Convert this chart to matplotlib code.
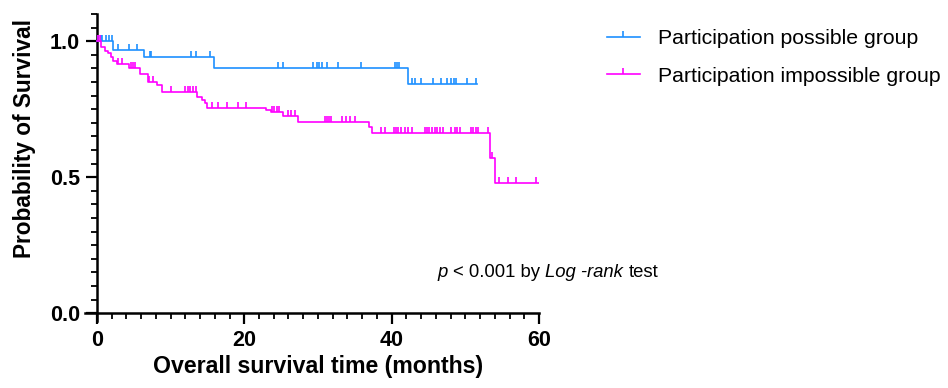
import numpy as np
import matplotlib
matplotlib.use("Agg")
import matplotlib.pyplot as plt
from matplotlib.path import Path
from matplotlib.lines import Line2D
from matplotlib.offsetbox import TextArea, HPacker, AnchoredOffsetbox

plt.rcParams["font.family"] = ["Liberation Sans", "DejaVu Sans"]

# Participation possible group (step times / survival after step)
possible_times = [0.0, 2.2, 6.4, 15.9, 42.2]
possible_surv = [1.0, 0.969, 0.940, 0.903, 0.842]
possible_end = 51.6
possible_censor = [0.2, 0.5, 0.7, 1.3, 1.7, 2.1, 2.9, 4.3, 5.4, 7.2, 7.4, 12.8,
                   13.5, 15.4, 24.6, 25.3, 29.3, 29.8, 30.2, 30.6, 31.2, 32.7,
                   35.9, 40.4, 40.7, 41.0, 42.7, 43.1, 44.0, 45.6, 46.7, 47.5,
                   48.1, 48.4, 48.7, 50.2, 51.5]

# Participation impossible group
impossible_times = [0.0, 0.6, 1.1, 1.5, 1.9, 2.2, 2.7, 4.4, 5.8, 7.0, 8.1, 8.9,
                    13.6, 14.2, 14.7, 15.0, 22.9, 23.6, 25.3, 27.3, 36.9, 37.3,
                    53.4, 54.0]
impossible_surv = [1.0, 0.979, 0.964, 0.955, 0.940, 0.928, 0.915, 0.900, 0.881,
                   0.850, 0.838, 0.814, 0.795, 0.783, 0.771, 0.755, 0.746, 0.738,
                   0.726, 0.701, 0.685, 0.664, 0.569, 0.477]
impossible_end = 60.0
impossible_censor = [0.2, 0.4, 2.9, 3.4, 4.6, 4.9, 5.2, 7.1, 7.6, 10.0, 12.0,
                     12.3, 12.6, 13.1, 13.4, 15.6, 16.5, 17.7, 19.1, 20.2, 23.8,
                     24.1, 24.4, 24.7, 26.0, 26.4, 26.9, 30.9, 31.2, 31.5, 31.8,
                     33.2, 33.8, 34.3, 35.0, 38.6, 39.1, 40.3, 40.6, 40.9, 41.2,
                     41.8, 42.2, 42.7, 44.5, 44.8, 45.1, 45.4, 45.9, 46.2, 46.5,
                     46.9, 48.0, 48.6, 48.9, 49.3, 50.7, 51.0, 51.4, 51.7, 53.0,
                     53.6, 54.5, 55.8, 56.9, 59.6]

BLUE = "#1e90ff"
PINK = "#ff00ff"

# upward tick used for censored observations
TICK = Path([(0, 0), (0, 1)], [Path.MOVETO, Path.LINETO])


def draw_curve(ax, times, surv, end, censor, color):
    t = np.append(times, end)
    s = np.append(surv, surv[-1])
    ax.step(t, s, where="post", color=color, lw=1.2, zorder=3)
    idx = np.searchsorted(times, censor, side="right") - 1
    cs = np.asarray(surv)[idx]
    ax.plot(censor, cs, ls="none", marker=TICK, ms=8.5, mew=1.2,
            color=color, zorder=3)


fig = plt.figure(figsize=(9.48, 3.88), dpi=100)
ax = fig.add_axes([0.0897, 0.172, 0.479, 0.792])

draw_curve(ax, possible_times, possible_surv, possible_end, possible_censor, BLUE)
draw_curve(ax, impossible_times, impossible_surv, impossible_end,
           impossible_censor, PINK)

ax.set_xlim(-1.6, 60)
ax.set_ylim(-0.03, 1.1)
ax.spines["left"].set_position(("data", 0))
ax.spines["bottom"].set_position(("data", 0))
ax.spines["top"].set_visible(False)
ax.spines["right"].set_visible(False)
for sp in ("left", "bottom"):
    ax.spines[sp].set_linewidth(1.8)

ax.set_xticks([0, 20, 40, 60])
ax.set_xticks(np.arange(0, 61, 2), minor=True)
ax.set_yticks([0.0, 0.5, 1.0])
ax.set_yticks(np.arange(0, 1.101, 0.05), minor=True)
ax.set_yticklabels(["0.0", "0.5", "1.0"])
ax.tick_params(which="major", length=8, width=1.6, pad=4, labelsize=15.5)
ax.tick_params(which="minor", length=4, width=1.3)
for lab in ax.get_xticklabels() + ax.get_yticklabels():
    lab.set_fontweight("bold")

ax.set_xlabel("Overall survival time (months)", fontsize=16.7, fontweight="bold")
ax.set_ylabel("Probability of Survival", fontsize=16.3, fontweight="bold")
ax.xaxis.set_label_coords(0.513, -0.11)
ax.yaxis.set_label_coords(-0.108, 0.596)

# p-value annotation, mixed italic / regular
parts = [("p", "italic"), ("< 0.001 by", "normal"),
         ("Log -rank", "italic"), ("test", "normal")]
boxes = [TextArea(txt, textprops=dict(fontsize=13.3, style=st, color="black"))
         for txt, st in parts]
pack = HPacker(children=boxes, pad=0, sep=4, align="baseline")
anch = AnchoredOffsetbox(loc="lower left", child=pack, pad=0, borderpad=0,
                         frameon=False, bbox_to_anchor=(437, 388 - 281),
                         bbox_transform=None)
ax.add_artist(anch)

handles = [
    Line2D([], [], color=BLUE, lw=1.2, marker=TICK, ms=8.5, mew=1.2),
    Line2D([], [], color=PINK, lw=1.2, marker=TICK, ms=8.5, mew=1.2),
]
fig.legend(handles, ["Participation possible group",
                     "Participation impossible group"],
           loc="upper left", bbox_to_anchor=(0.640, 0.925),
           frameon=False, fontsize=15.3, handlelength=1.55,
           handletextpad=0.85, labelspacing=0.88, borderaxespad=0,
           borderpad=0)

fig.savefig("out.png", dpi=100)
